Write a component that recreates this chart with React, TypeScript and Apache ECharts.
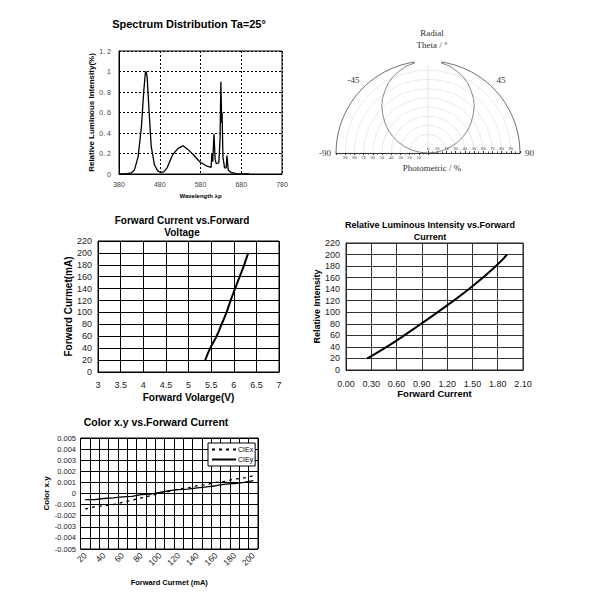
import React, { useEffect, useRef } from "react";
import * as echarts from "echarts";

// ---- Spectrum distribution ----
const spectrumWl = [380, 400, 410, 418, 427, 435, 441, 445, 447, 449, 454, 459, 467, 475, 482, 490, 498, 512, 525, 537, 549, 562, 578, 594, 606, 608, 610, 613, 616, 619, 625, 628, 630, 632, 633, 635, 639, 643, 645, 648, 655, 668, 700];
const spectrumVal = [0, 0.003, 0.01, 0.04, 0.17, 0.46, 0.82, 1.0, 0.99, 0.95, 0.6, 0.27, 0.09, 0.03, 0.015, 0.02, 0.06, 0.19, 0.25, 0.275, 0.24, 0.19, 0.12, 0.08, 0.065, 0.2, 0.12, 0.39, 0.14, 0.1, 0.11, 0.34, 0.9, 0.5, 0.6, 0.17, 0.06, 0.06, 0.18, 0.04, 0.015, 0.004, 0];

// ---- Radiation pattern ----
const thetaDeg = [-90, -85, -80, -75, -70, -65, -60, -55, -50, -45, -40, -35, -30, -25, -20, -15, -10, -5, 0, 5, 10, 15, 20, 25, 30, 35, 40, 45, 50, 55, 60, 65, 70, 75, 80, 85, 90];
const photometric = [0, 9, 17, 26, 34, 42, 50, 57, 64, 71, 77, 82, 87, 91, 94, 97, 98.5, 99.6, 100, 99.6, 98.5, 97, 94, 91, 87, 82, 77, 71, 64, 57, 50, 42, 34, 26, 17, 9, 0];

// ---- Forward current vs forward voltage ----
const fwdVoltage = [5.37, 5.48, 5.62, 5.73, 5.84, 5.93, 6.03, 6.13, 6.23, 6.32];
const fwdCurrentMA = [20, 40, 60, 80, 100, 120, 140, 160, 180, 200];

// ---- Relative luminous intensity vs forward current ----
const lumCurrent = [0.25, 0.3, 0.6, 0.9, 1.2, 1.5, 1.8, 1.91];
const lumIntensity = [20, 24, 51, 81, 112, 145, 183, 200];

// ---- Color x.y vs forward current ----
const colorCats = ["20", "30", "40", "50", "60", "70", "80", "90", "100", "110", "120", "130", "140", "150", "160", "170", "180", "190", "200"];
const cieX = [-0.0014, -0.0012, -0.0011, -0.001, -0.0008, -0.0006, -0.0004, -0.0002, 0, 0.0002, 0.0004, 0.0005, 0.0007, 0.0008, 0.001, 0.0011, 0.0013, 0.0014, 0.0016];
const cieY = [-0.00055, -0.00055, -0.00045, -0.0004, -0.0003, -0.00025, -0.0001, -0.00005, 0.0001, 0.00025, 0.00035, 0.0004, 0.0005, 0.0006, 0.0007, 0.00085, 0.0009, 0.001, 0.00115];

const SANS = "Liberation Sans, Arial, sans-serif";
const SERIF = "Liberation Serif, Times New Roman, serif";

export default function App() {
  const ref = useRef<HTMLDivElement>(null);
  useEffect(() => {
    if (!ref.current) return;
    const chart = echarts.init(ref.current, null, { renderer: "svg" });

    const zip = (a: number[], b: number[]) => a.map((v, i) => [v, b[i]]);
    const solidGrid = { show: true, lineStyle: { color: "#000", width: 1 } };
    const tickLbl = (size: number, extra: any = {}) => ({ fontFamily: SANS, fontSize: size, color: "#222", ...extra });
    const nameStyle = (size: number) => ({ fontFamily: SANS, fontSize: size, fontWeight: "bold", color: "#000" });

    const option: any = {
      animation: false,
      backgroundColor: "#fff",
      grid: [
        { left: 119, top: 51, width: 163, height: 123, show: true, borderColor: "#000", borderWidth: 1 },
        { left: 98, top: 241, width: 181, height: 131, show: true, borderColor: "#000", borderWidth: 1 },
        { left: 346, top: 243, width: 177, height: 127, show: true, borderColor: "#222", borderWidth: 1 },
        { left: 80.5, top: 438, width: 177.5, height: 111, show: true, borderColor: "#000", borderWidth: 1 },
      ],
      xAxis: [
        {
          gridIndex: 0, type: "value", min: 380, max: 780, interval: 100,
          axisLine: { lineStyle: { color: "#000" } }, axisTick: { show: false },
          axisLabel: tickLbl(7, { margin: 7, color: "#444" }),
          splitLine: { show: true, lineStyle: { color: "#000", type: [2, 2], width: 1 } },
          name: "Wavelength λp", nameLocation: "middle", nameGap: 19, nameTextStyle: nameStyle(6),
        },
        {
          gridIndex: 1, type: "value", min: 3, max: 7, interval: 0.5,
          axisLine: { lineStyle: { color: "#000" } }, axisTick: { show: false },
          axisLabel: tickLbl(9, { margin: 8 }),
          splitLine: solidGrid,
          name: "Forward Volarge(V)", nameLocation: "middle", nameGap: 20, nameTextStyle: nameStyle(10),
        },
        {
          gridIndex: 2, type: "value", min: 0, max: 2.1, interval: 0.3,
          axisLine: { lineStyle: { color: "#222" } }, axisTick: { show: false },
          axisLabel: tickLbl(9, { margin: 9, formatter: (v: number) => v.toFixed(2) }),
          splitLine: { show: true, lineStyle: { color: "#333", width: 1 } },
          name: "Forward Current", nameLocation: "middle", nameGap: 18, nameTextStyle: nameStyle(9.5),
        },
        {
          gridIndex: 3, type: "category", data: colorCats, boundaryGap: true,
          axisLine: { lineStyle: { color: "#000" } }, axisTick: { show: false },
          axisLabel: tickLbl(8.5, { margin: 5, rotate: 45, interval: 1 }),
          splitLine: { show: true, interval: 0, lineStyle: { color: "#000", width: 1 } },
          name: "Forward Curmet (mA)", nameLocation: "middle", nameGap: 29, nameTextStyle: nameStyle(7.5),
        },
      ],
      yAxis: [
        {
          gridIndex: 0, type: "value", min: 0, max: 1.2, interval: 0.2,
          axisLine: { lineStyle: { color: "#000" } }, axisTick: { show: false },
          axisLabel: tickLbl(7, {
            margin: 8, color: "#444",
            formatter: (v: number) => (Math.abs(v) < 1e-9 ? "0" : Math.abs(v - 1) < 1e-9 ? "1" : v.toFixed(1).replace(".", ". ")),
          }),
          splitLine: { show: true, lineStyle: { color: "#000", type: [2, 2], width: 1 } },
          name: "Relative Luminous Intensity(%)", nameLocation: "middle", nameGap: 21, nameTextStyle: nameStyle(8),
        },
        {
          gridIndex: 1, type: "value", min: 0, max: 220, interval: 20,
          axisLine: { lineStyle: { color: "#000" } }, axisTick: { show: false },
          axisLabel: tickLbl(9, { margin: 6 }),
          splitLine: solidGrid,
          name: "Forward Curmet(mA)", nameLocation: "middle", nameGap: 25, nameTextStyle: nameStyle(10),
        },
        {
          gridIndex: 2, type: "value", min: 0, max: 220, interval: 20,
          axisLine: { lineStyle: { color: "#222" } }, axisTick: { show: false },
          axisLabel: tickLbl(9, { margin: 6 }),
          splitLine: { show: true, lineStyle: { color: "#333", width: 1 } },
          name: "Relative Intensity", nameLocation: "middle", nameGap: 24, nameTextStyle: nameStyle(9),
        },
        {
          gridIndex: 3, type: "value", min: -0.005, max: 0.005, interval: 0.001,
          axisLine: { lineStyle: { color: "#000" } }, axisTick: { show: false },
          axisLabel: tickLbl(7.5, { margin: 4.5, formatter: (v: number) => String(Number(v.toFixed(3))) }),
          splitLine: solidGrid,
          name: "Color x.y", nameLocation: "middle", nameGap: 27, nameTextStyle: nameStyle(8),
        },
      ],
      polar: [
        { center: [428, 153], radius: 92 },
        { center: [428, 153], radius: 92 },
      ],
      angleAxis: [
        {
          polarIndex: 0, type: "value", min: -90, max: 90, interval: 45,
          startAngle: 180, endAngle: 0, clockwise: true,
          axisLine: { lineStyle: { color: "#777", width: 1 } },
          axisTick: { show: false },
          axisLabel: { fontFamily: SERIF, fontSize: 9, color: "#333", margin: 5, formatter: (v: number) => (v === 0 ? "" : String(v)) },
          splitLine: { show: true, lineStyle: { color: ["#e2e2e2", "rgba(0,0,0,0)"], width: 0.8 } },
        },
        {
          polarIndex: 1, type: "value", min: 0, max: 90, startAngle: 0, endAngle: 90, clockwise: false,
          axisLine: { show: false }, axisTick: { show: false }, axisLabel: { show: false }, splitLine: { show: false },
        },
      ],
      radiusAxis: [
        {
          polarIndex: 0, type: "value", min: 0, max: 100, interval: 10,
          axisLine: { lineStyle: { color: "#333", width: 1 } },
          axisTick: { show: true, length: 2, lineStyle: { color: "#333" } },
          minorTick: { show: true, splitNumber: 2, length: 1.5, lineStyle: { color: "#555" } },
          axisLabel: { fontFamily: SERIF, fontSize: 4.5, color: "#444", margin: 2, formatter: (v: number) => (v === 0 || v === 100 ? "" : String(v)) },
          splitLine: { show: true, lineStyle: { color: "#e4e4e4", width: 0.8 } },
        },
        {
          polarIndex: 1, type: "value", min: 0, max: 100, interval: 10,
          axisLine: { lineStyle: { color: "#333", width: 1 } },
          axisTick: { show: true, length: 2, lineStyle: { color: "#333" } },
          minorTick: { show: true, splitNumber: 2, length: 1.5, lineStyle: { color: "#555" } },
          axisLabel: { fontFamily: SERIF, fontSize: 4.5, color: "#444", margin: 2, formatter: (v: number) => (v === 100 ? "" : String(v)) },
          splitLine: { show: false },
        },
      ],
      legend: {
        data: ["CIEx", "CIEy"],
        orient: "vertical",
        left: 208, top: 443,
        backgroundColor: "#fff", borderColor: "#000", borderWidth: 1,
        padding: [3, 2, 3, 3], itemGap: 3, itemWidth: 24, itemHeight: 6,
        itemStyle: { opacity: 0 },
        textStyle: { fontFamily: SANS, fontSize: 7, color: "#000", padding: [0, 0, 0, -3] },
      },
      series: [
        {
          type: "line", name: "Spectrum", xAxisIndex: 0, yAxisIndex: 0, data: zip(spectrumWl, spectrumVal),
          symbol: "none", lineStyle: { color: "#000", width: 1.3 },
        },
        {
          type: "line", name: "Pattern", coordinateSystem: "polar", polarIndex: 0,
          data: thetaDeg.map((t, i) => [photometric[i], t]),
          symbol: "none", lineStyle: { color: "#888", width: 1 },
        },
        {
          type: "line", name: "IV", xAxisIndex: 1, yAxisIndex: 1, data: zip(fwdVoltage, fwdCurrentMA), smooth: true,
          symbol: "none", lineStyle: { color: "#000", width: 2 },
        },
        {
          type: "line", name: "Lum", xAxisIndex: 2, yAxisIndex: 2, data: zip(lumCurrent, lumIntensity), smooth: true,
          symbol: "none", lineStyle: { color: "#000", width: 2 },
        },
        {
          type: "line", name: "CIEx", xAxisIndex: 3, yAxisIndex: 3, data: cieX,
          symbol: "none", itemStyle: { color: "#000" }, lineStyle: { color: "#000", width: 1.3, type: [3, 4] },
        },
        {
          type: "line", name: "CIEy", xAxisIndex: 3, yAxisIndex: 3, data: cieY,
          symbol: "none", itemStyle: { color: "#000" }, lineStyle: { color: "#000", width: 1.3 },
        },
      ],
      graphic: [
        { type: "rect", z: 100, shape: { x: 415, y: 38, width: 26, height: 27 }, style: { fill: "#fff" } },
        { type: "text", z: 101, x: 189, y: 24, style: { text: "Spectrum Distribution Ta=25°", textAlign: "center", textVerticalAlign: "middle", font: `bold 11px ${SANS}`, fill: "#000" } },
        { type: "text", z: 101, x: 182, y: 226, style: { text: "Forward Current vs.Forward\nVoltage", textAlign: "center", textVerticalAlign: "middle", lineHeight: 12, font: `bold 10px ${SANS}`, fill: "#000" } },
        { type: "text", z: 101, x: 430, y: 231, style: { text: "Relative Luminous Intensity vs.Forward\nCurrent", textAlign: "center", textVerticalAlign: "middle", lineHeight: 12, font: `bold 9px ${SANS}`, fill: "#000" } },
        { type: "text", z: 101, x: 156, y: 422, style: { text: "Color x.y vs.Forward Current", textAlign: "center", textVerticalAlign: "middle", font: `bold 10.5px ${SANS}`, fill: "#000" } },
        { type: "text", z: 101, x: 432, y: 33, style: { text: "Radial", textAlign: "center", textVerticalAlign: "middle", font: `9px ${SERIF}`, fill: "#333" } },
        { type: "text", z: 101, x: 432, y: 45, style: { text: "Theta / °", textAlign: "center", textVerticalAlign: "middle", font: `9px ${SERIF}`, fill: "#333" } },
        { type: "text", z: 101, x: 432, y: 168, style: { text: "Photometric / %", textAlign: "center", textVerticalAlign: "middle", font: `9px ${SERIF}`, fill: "#333" } },
      ],
    };

    chart.setOption(option);
    return () => chart.dispose();
  }, []);

  return <div ref={ref} style={{ position: "absolute", left: 0, top: 0, width: 600, height: 600, background: "#fff" }} />;
}
